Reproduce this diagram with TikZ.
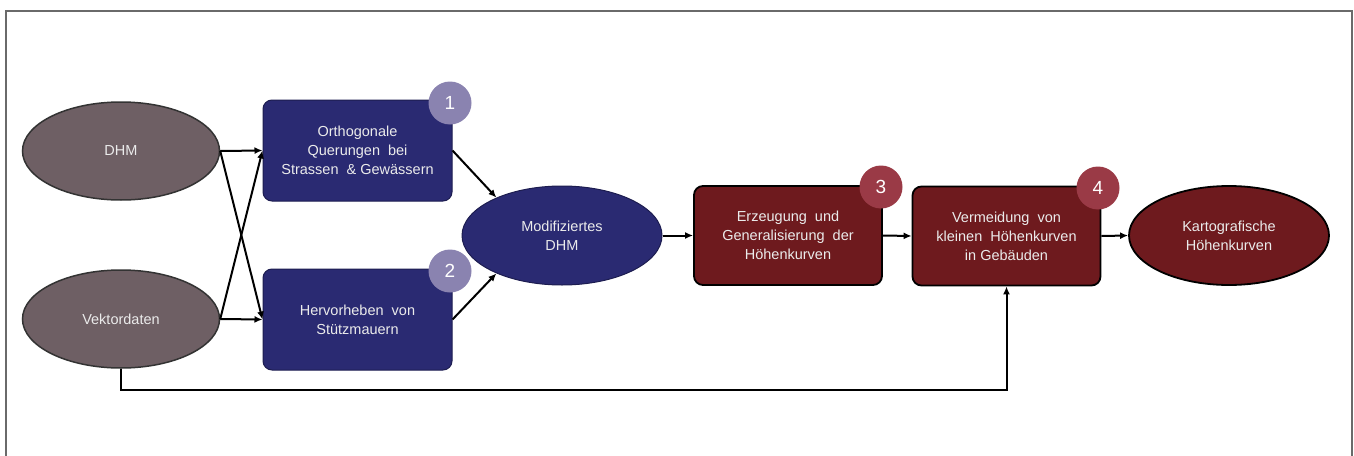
\documentclass[tikz,border=0pt]{standalone}
\usepackage{fontspec}
\setmainfont{Liberation Sans}
\usetikzlibrary{shapes.geometric,arrows.meta}
\definecolor{grayel}{HTML}{6E5F64}
\definecolor{navy}{HTML}{2A2A72}
\definecolor{lila}{HTML}{8A83B0}
\definecolor{wine}{HTML}{6E1A1E}
\definecolor{winebadge}{HTML}{9A3A46}
\definecolor{framegray}{HTML}{6A6A6A}
\tikzset{
  txt/.style={text=white!92!black, font=\fontsize{14.5}{19}\selectfont, align=center},
  grayell/.style={ellipse, fill=grayel, draw=black!80, line width=1.5pt, minimum width=197pt, minimum height=98pt, inner sep=0pt, txt},
  blueell/.style={ellipse, fill=navy, draw=navy!70!black, line width=1pt, minimum width=200pt, minimum height=99pt, inner sep=0pt, txt},
  redell/.style={ellipse, fill=wine, draw=black, line width=1.8pt, minimum width=200pt, minimum height=99pt, inner sep=0pt, txt},
  bluebox/.style={rectangle, rounded corners=9pt, fill=navy, draw=navy!70!black, line width=1pt, minimum width=189pt, minimum height=101pt, inner sep=0pt, txt},
  redbox/.style={rectangle, rounded corners=9pt, fill=wine, draw=black, line width=1.8pt, minimum width=188pt, minimum height=99pt, inner sep=0pt, txt},
  badgeblue/.style={circle, fill=lila, minimum size=43pt, inner sep=0pt, text=white, font=\fontsize{19}{19}\selectfont},
  badgered/.style={circle, fill=winebadge, minimum size=43pt, inner sep=0pt, text=white, font=\fontsize{19}{19}\selectfont},
  conn/.style={line width=2pt, -{Latex[length=8pt,width=7pt]}},
}
\begin{document}
\begin{tikzpicture}[x=1pt,y=-1pt]
\useasboundingbox (0,0) rectangle (1354,455);
\draw[framegray, line width=1.8pt] (6,470) -- (6,11) -- (1352,11) -- (1352,470);

\node[grayell] (dhm) at (121,151) {DHM};
\node[grayell] (vek) at (121,319) {Vektordaten};

\node[bluebox] (b1) at (357.5,150.5) {Orthogonale\\Querungen\ \ bei\\Strassen\ \ \&\ Gewässern};
\node[bluebox] (b2) at (357.5,319.5) {Hervorheben\ \ von\\Stützmauern};
\node[badgeblue] (n1) at (450,103) {1};
\node[badgeblue] (n2) at (450,271) {2};

\node[blueell] (mod) at (562,235.5) {Modifiziertes\\DHM};

\node[redbox] (b3) at (788,235.5) {Erzeugung\ \ und\\Generalisierung\ \ der\\Höhenkurven};
\node[redbox] (b4) at (1006.5,236) {Vermeidung\ \ von\\kleinen\ \ Höhenkurven\\in Gebäuden};
\node[badgered] (n3) at (881,187) {3};
\node[badgered] (n4) at (1098,188) {4};

\node[redell] (kart) at (1229,235.5) {Kartografische\\Höhenkurven};

\draw[conn] (dhm.east) -- (b1.west);
\draw[conn] (dhm.east) -- (b2.west);
\draw[conn] (vek.east) -- (b1.west);
\draw[conn] (vek.east) -- (b2.west);
\draw[conn] (b1.east) -- (mod.150);
\draw[conn] (b2.east) -- (mod.210);
\draw[conn] (mod.east) -- (b3.west);
\draw[conn] (b3.east) -- (b4.west);
\draw[conn] (b4.east) -- (kart.west);
\coordinate (c1) at (121,390);
\coordinate (c2) at (1006.5,390);
\draw[conn] (vek.south) -- (c1) -- (c2) -- (b4.south);
\end{tikzpicture}
\end{document}
